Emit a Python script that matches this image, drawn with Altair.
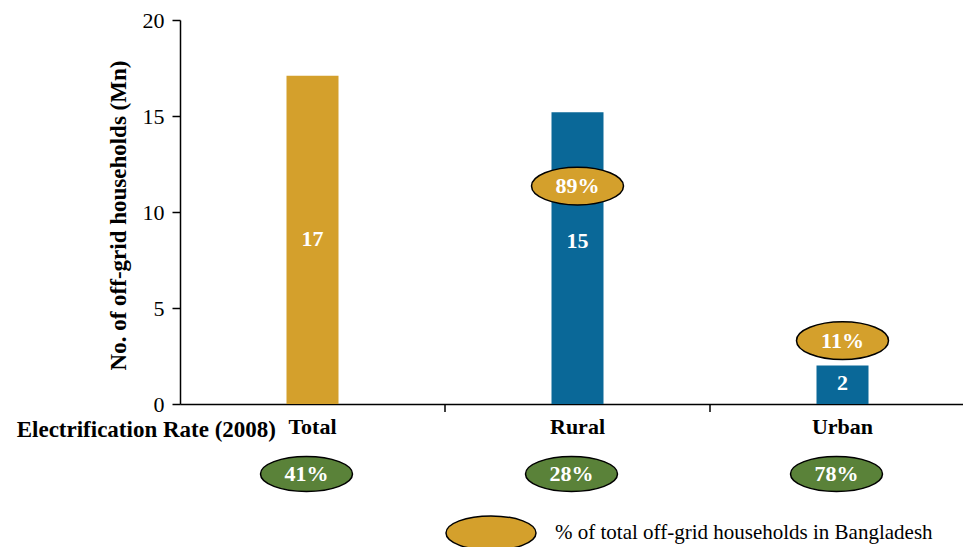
import altair as alt
import pandas as pd

categories = ["Total", "Rural", "Urban"]
households = [17.1, 15.2, 2.0]
value_text = ["17", "15", "2"]
value_text_y = [8.6, 8.5, 1.1]
share_text = ["", "89%", "11%"]
share_y = [None, 11.35, 3.3]
electrification = ["41%", "28%", "78%"]
bar_kind = ["total", "part", "part"]

GOLD = "#D4A02C"
BLUE = "#0A6898"
GREEN = "#5A8239"
FONT = "Liberation Serif"
FS = 22

df = pd.DataFrame({
    "cat": categories,
    "value": households,
    "vtext": value_text,
    "vty": value_text_y,
    "share": share_text,
    "sy": share_y,
    "elec": electrification,
    "kind": bar_kind,
})

ELL = "M -1 0 A 1 0.41 0 1 0 1 0 A 1 0.41 0 1 0 -1 0 Z"
ELL2 = "M -1 0 A 1 0.38 0 1 0 1 0 A 1 0.38 0 1 0 -1 0 Z"

xenc = alt.X("cat:N", sort=categories,
             scale=alt.Scale(range=[0, 795], paddingInner=0, paddingOuter=0),
             axis=alt.Axis(title=None, labelAngle=0, ticks=False, domain=True,
                           domainColor="black", domainWidth=1.5,
                           labelFont=FONT, labelFontSize=FS, labelFontWeight="bold",
                           labelColor="black", labelPadding=12))

base = alt.Chart(df)

bars = base.mark_bar(size=52).encode(
    x=xenc,
    y=alt.Y("value:Q", scale=alt.Scale(domain=[0, 20], nice=False),
            axis=alt.Axis(values=[0, 5, 10, 15, 20], grid=False, tickSize=8,
                          tickColor="black", domainColor="black", domainWidth=1.5,
                          tickWidth=1.5,
                          labelFont=FONT, labelFontSize=FS, labelColor="black",
                          labelPadding=8,
                          title="No. of off-grid households (Mn)",
                          titleFont=FONT, titleFontSize=23, titleFontWeight="bold",
                          titleColor="black", titlePadding=12, titleY=195)),
    color=alt.Color("kind:N", scale=alt.Scale(domain=["total", "part"], range=[GOLD, BLUE]),
                    legend=None),
)

vlabels = base.mark_text(font=FONT, fontSize=FS, fontWeight="bold", color="white").encode(
    x=alt.X("cat:N", sort=categories), y="vty:Q", text="vtext:N")

gold_ell = base.transform_filter("datum.share != ''").mark_point(
    shape=ELL, size=92 * 92, filled=True, fill=GOLD, stroke="black",
    strokeWidth=1.5, opacity=1).encode(
    x=alt.X("cat:N", sort=categories), y="sy:Q")

gold_txt = base.transform_filter("datum.share != ''").mark_text(
    font=FONT, fontSize=FS, fontWeight="bold", color="white").encode(
    x=alt.X("cat:N", sort=categories), y="sy:Q", text="share:N")

green_ell = base.mark_point(
    shape=ELL2, size=92 * 92, filled=True, fill=GREEN, stroke="black",
    strokeWidth=1.5, opacity=1, xOffset=-6).encode(
    x=alt.X("cat:N", sort=categories), y=alt.value(454))

green_txt = base.mark_text(font=FONT, fontSize=FS, fontWeight="bold", color="white",
                           xOffset=-6).encode(
    x=alt.X("cat:N", sort=categories), y=alt.value(454), text="elec:N")

ticks = base.transform_filter("datum.cat != 'Total'").mark_rule(
    color="black", strokeWidth=1.5).encode(
    x=alt.X("cat:N", sort=categories, bandPosition=0),
    y=alt.value(384), y2=alt.value(392))

row_label = alt.Chart(pd.DataFrame({"t": ["Electrification Rate (2008)"]})).mark_text(
    font=FONT, fontSize=23, fontWeight="bold", color="black", align="right",
    baseline="middle").encode(x=alt.value(96), y=alt.value(410), text="t:N")

legend_ell = alt.Chart(pd.DataFrame({"t": ["% of total off-grid households in Bangladesh"]})).mark_point(
    shape=ELL2, size=90 * 90, filled=True, fill=GOLD, stroke="black",
    strokeWidth=1.5, opacity=1).encode(x=alt.value(311), y=alt.value(513))

legend_txt = alt.Chart(pd.DataFrame({"t": ["% of total off-grid households in Bangladesh"]})).mark_text(
    font=FONT, fontSize=21, color="black", align="left", baseline="middle").encode(
    x=alt.value(375), y=alt.value(513), text="t:N")

chart = alt.layer(bars, vlabels, gold_ell, gold_txt, green_ell, green_txt, ticks,
                  row_label, legend_ell, legend_txt).properties(
    width=783, height=384,
    autosize=alt.AutoSizeParams(type="none"),
    padding={"left": 172, "top": 12, "right": 0, "bottom": 143},
).configure(background="white", view=alt.ViewConfig(stroke=None))

chart.save("out.html", embed_options={"renderer": "svg", "actions": False})
